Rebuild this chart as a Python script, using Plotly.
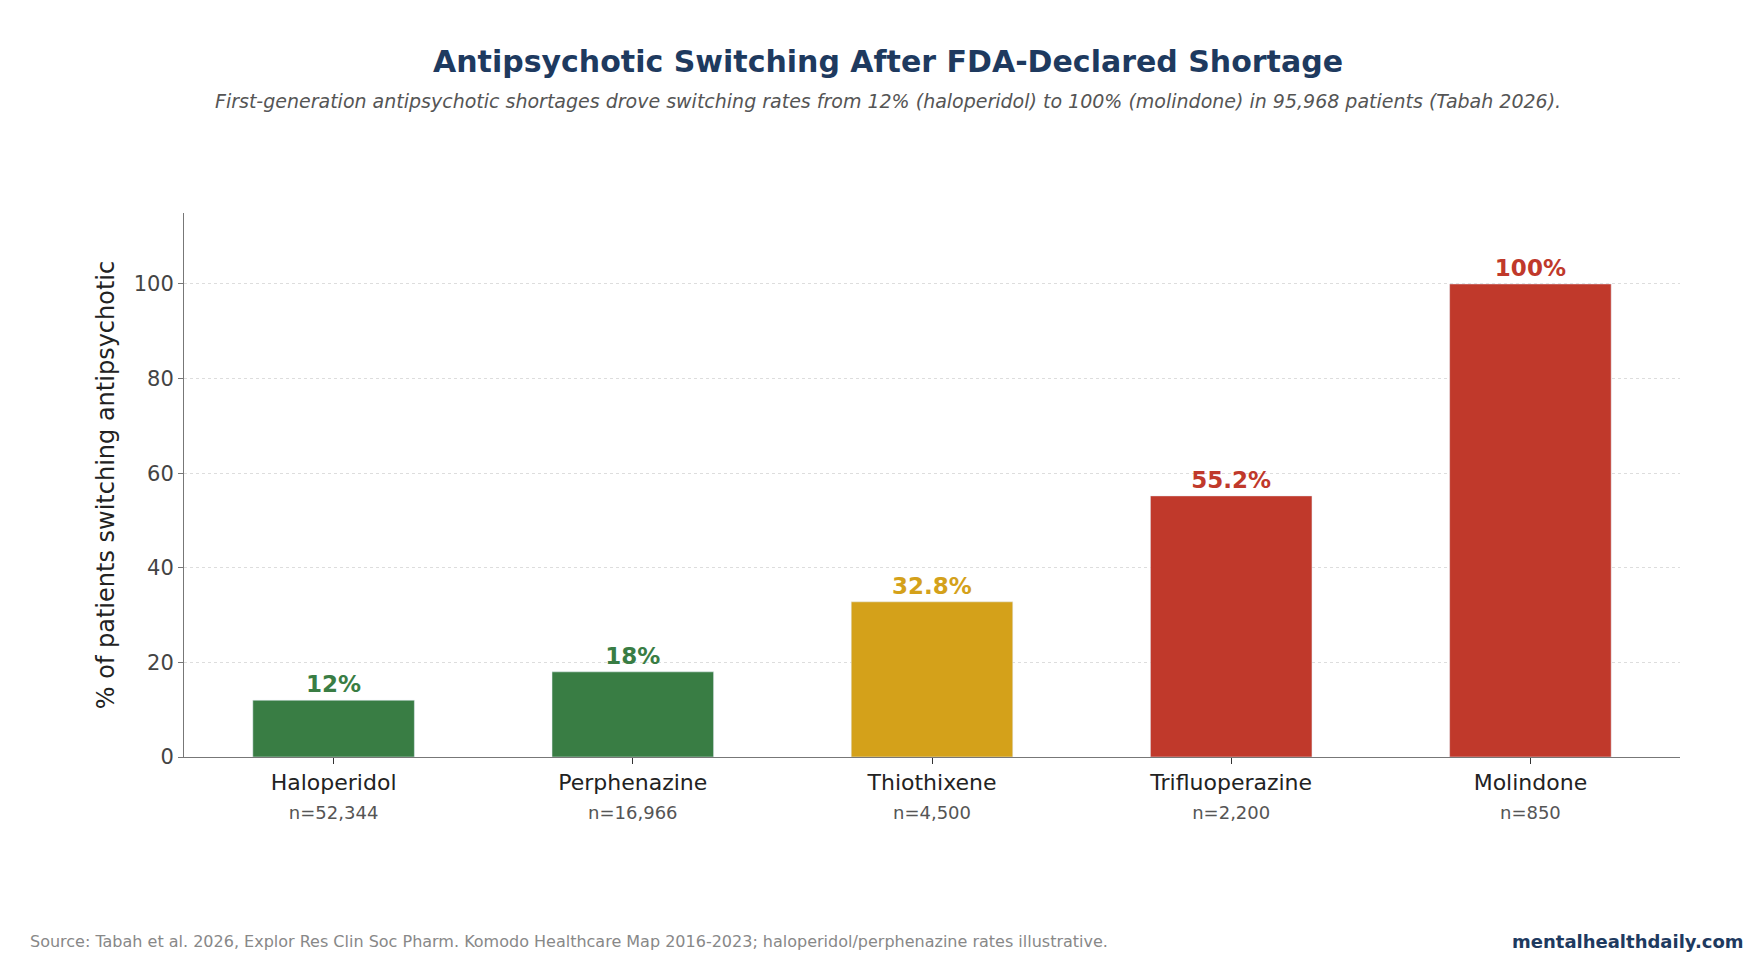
import plotly.graph_objects as go

drugs = ["Haloperidol", "Perphenazine", "Thiothixene", "Trifluoperazine", "Molindone"]
sample_sizes = ["n=52,344", "n=16,966", "n=4,500", "n=2,200", "n=850"]
switch_pct = [12, 18, 32.8, 55.2, 100]
bar_labels = ["12%", "18%", "32.8%", "55.2%", "100%"]
colors = ["#397d44", "#397d44", "#d4a11a", "#c0392b", "#c0392b"]

ticktext = [
    f"{d}<br><span style='font-size:18px;color:#555555'>{n}</span>"
    for d, n in zip(drugs, sample_sizes)
]

fig = go.Figure(go.Bar(
    x=drugs, y=switch_pct, marker_color=colors, width=0.54,
    text=bar_labels, textposition="outside", cliponaxis=False,
    textfont=dict(size=23, color=colors, family="DejaVu Sans"),
    texttemplate="<b>%{text}</b>",
))

fig.update_layout(
    width=1760, height=960,
    plot_bgcolor="white", paper_bgcolor="white",
    font=dict(family="DejaVu Sans", color="#333333"),
    margin=dict(l=176, r=88, t=205, b=211),
    showlegend=False,
    title=dict(
        text="<b>Antipsychotic Switching After FDA-Declared Shortage</b>",
        x=0.5, xanchor="center", y=0.955, yanchor="top",
        font=dict(size=30, color="#1e3a5f"),
    ),
    annotations=[
        dict(text="<i>First-generation antipsychotic shortages drove switching rates from 12% (haloperidol) to 100% (molindone) in 95,968 patients (Tabah 2026).</i>",
             xref="paper", yref="paper", x=0.4706, y=1.0, yshift=125, xanchor="center",
             showarrow=False, font=dict(size=19, color="#555555")),
        dict(text="Source: Tabah et al. 2026, Explor Res Clin Soc Pharm. Komodo Healthcare Map 2016-2023; haloperidol/perphenazine rates illustrative.",
             xref="paper", yref="paper", x=-0.104, y=-0.34, xanchor="left", yanchor="middle",
             showarrow=False, font=dict(size=16, color="#888888")),
        dict(text="<b>mentalhealthdaily.com</b>",
             xref="paper", yref="paper", x=1.044, y=-0.34, xanchor="right", yanchor="middle",
             showarrow=False, font=dict(size=18, color="#1e3a5f")),
    ],
)
fig.update_xaxes(
    tickvals=drugs, ticktext=ticktext, tickfont=dict(size=22, color="#222222"),
    showline=True, linecolor="#777777", ticks="outside", tickcolor="#333333",
    ticklen=6, range=[-0.5, 4.5],
)
fig.update_yaxes(
    range=[0, 115], tickvals=[0, 20, 40, 60, 80, 100],
    tickfont=dict(size=21, color="#444444"),
    title=dict(text="% of patients switching antipsychotic", font=dict(size=24, color="#222222"),
               standoff=12),
    showline=True, linecolor="#777777", showgrid=True, gridcolor="#dddddd",
    griddash="dot", zeroline=False, ticks="outside", tickcolor="#777777",
)

fig.write_html("out.html")
